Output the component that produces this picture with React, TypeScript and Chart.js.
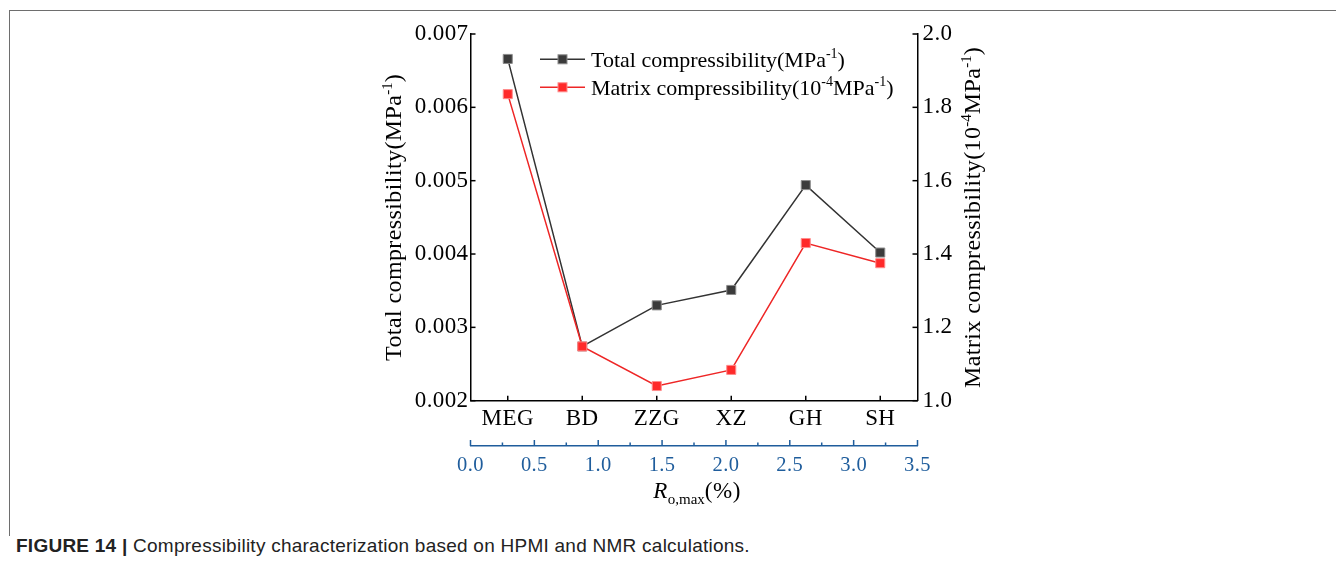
import React, { useEffect, useRef } from "react";
import { Chart, registerables } from "chart.js";

Chart.register(...registerables);

// ---------------- data ----------------
const categories: string[] = ["MEG", "BD", "ZZG", "XZ", "GH", "SH"];
const totalCompressibility: number[] = [0.00666, 0.00274, 0.0033, 0.00351, 0.00494, 0.00402];
const matrixCompressibility: number[] = [1.836, 1.148, 1.04, 1.084, 1.43, 1.375];
const leftTickValues: number[] = [0.002, 0.003, 0.004, 0.005, 0.006, 0.007];
const rightTickValues: number[] = [1.0, 1.2, 1.4, 1.6, 1.8, 2.0];
const roMajorTicks: number[] = [0, 0.5, 1.0, 1.5, 2.0, 2.5, 3.0, 3.5];
const roMinorTicks: number[] = [0.25, 0.75, 1.25, 1.75, 2.25, 2.75, 3.25];
const seriesLabels: string[] = ["Total compressibility(MPa⁻¹)", "Matrix compressibility(10⁻⁴MPa⁻¹)"];

type Seg = { t: string; s?: "sup" | "sub"; i?: boolean };
const totalText: Seg[] = [{ t: "Total compressibility(MPa" }, { t: "-1", s: "sup" }, { t: ")" }];
const matrixText: Seg[] = [
  { t: "Matrix compressibility(10" },
  { t: "-4", s: "sup" },
  { t: "MPa" },
  { t: "-1", s: "sup" },
  { t: ")" },
];
const roTitle: Seg[] = [{ t: "R", i: true }, { t: "o,max", s: "sub" }, { t: "(%)" }];
const captionLead = "FIGURE 14 |";
const captionBody = " Compressibility characterization based on HPMI and NMR calculations.";

// ---------------- styles ----------------
const SERIF = "'Liberation Serif', 'Times New Roman', serif";
const BLACK_LINE = "#333333";
const BLACK_FILL = "#3b3b3b";
const BLACK_EDGE = "#8c8c8c";
const RED_LINE = "#ee2626";
const RED_FILL = "#ff2a2a";
const RED_EDGE = "#ff8c8c";
const BLUE = "#1f5d9c";

function segFont(s: Seg, size: number) {
  const sz = s.s ? Math.round(size * 0.64) : size;
  return `${s.i ? "italic " : ""}${sz}px ${SERIF}`;
}
function richWidth(ctx: any, segs: Seg[], size: number, ls: number) {
  let w = 0;
  for (const s of segs) {
    ctx.font = segFont(s, size);
    ctx.letterSpacing = s.s ? "0px" : `${ls}px`;
    w += ctx.measureText(s.t).width;
  }
  return w;
}
function drawRich(ctx: any, segs: Seg[], x: number, baseline: number, size: number, color: string, ls: number) {
  ctx.fillStyle = color;
  ctx.textAlign = "left";
  ctx.textBaseline = "alphabetic";
  let cx = x;
  for (const s of segs) {
    ctx.font = segFont(s, size);
    ctx.letterSpacing = s.s ? "0px" : `${ls}px`;
    const dy = s.s === "sup" ? -size * 0.4 : s.s === "sub" ? size * 0.28 : 0;
    ctx.fillText(s.t, cx, baseline + dy);
    cx += ctx.measureText(s.t).width;
  }
  ctx.letterSpacing = "0px";
}

const decorPlugin = {
  id: "decor",
  beforeDraw(chart: any) {
    chart.ctx.letterSpacing = "0.4px";
  },
  afterDraw(chart: any) {
    const ctx: any = chart.ctx;
    ctx.letterSpacing = "0px";
    const ca = chart.chartArea;
    const { x, y, y1, ro } = chart.scales;
    ctx.save();
    const line = (x0: number, y0: number, x1: number, y1v: number) => {
      ctx.beginPath();
      ctx.moveTo(x0, y0);
      ctx.lineTo(x1, y1v);
      ctx.stroke();
    };
    // inward tick marks
    ctx.strokeStyle = "#000";
    ctx.lineWidth = 1.5;
    x.ticks.forEach((_: any, i: number) => {
      const px = x.getPixelForTick(i);
      line(px, ca.bottom, px, ca.bottom - 5);
    });
    y.ticks.forEach((_: any, i: number) => {
      const py = y.getPixelForTick(i);
      line(ca.left, py, ca.left + 5, py);
    });
    y1.ticks.forEach((_: any, i: number) => {
      const py = y1.getPixelForTick(i);
      line(ca.right, py, ca.right - 5, py);
    });
    ctx.strokeStyle = BLUE;
    ro.ticks.forEach((t: any, i: number) => {
      const px = ro.getPixelForTick(i);
      const major = roMajorTicks.includes(t.value);
      line(px, ro.top, px, ro.top - (major ? 6 : 3.5));
    });

    // axis titles
    const tSize = 24;
    const tLs = 0.4;
    const cy = (ca.top + ca.bottom) / 2;
    [
      { segs: totalText, cx: ca.left - 77 },
      { segs: matrixText, cx: ca.right + 55 },
    ].forEach(({ segs, cx }) => {
      const w = richWidth(ctx, segs, tSize, tLs);
      ctx.save();
      ctx.translate(cx, cy);
      ctx.rotate(-Math.PI / 2);
      drawRich(ctx, segs, -w / 2, tSize * 0.33, tSize, "#000", tLs);
      ctx.restore();
    });
    const rSize = 23;
    const rw = richWidth(ctx, roTitle, rSize, 0.5);
    drawRich(ctx, roTitle, (ca.left + ca.right) / 2 - rw / 2 + 3, 490, rSize, "#000", 0.5);

    // legend
    const lSize = 22;
    const legendTexts = [totalText, matrixText];
    const rows = [51.3, 79.3];
    const lx0 = 532;
    const lx1 = 577;
    chart.data.datasets.forEach((ds: any, i: number) => {
      const ry = rows[i];
      ctx.strokeStyle = ds.borderColor;
      ctx.lineWidth = ds.borderWidth;
      line(lx0, ry, lx1, ry);
      const mx = (lx0 + lx1) / 2;
      ctx.fillStyle = ds.pointBackgroundColor;
      ctx.fillRect(mx - 4.5, ry - 4.5, 9, 9);
      ctx.strokeStyle = ds.pointBorderColor;
      ctx.lineWidth = 1;
      ctx.strokeRect(mx - 4.5, ry - 4.5, 9, 9);
      drawRich(ctx, legendTexts[i], 583, ry + lSize * 0.33, lSize, "#000", 0);
    });
    ctx.restore();
  },
};

export default function App() {
  const ref = useRef<HTMLCanvasElement>(null);
  useEffect(() => {
    const tickFont = { family: SERIF, size: 23 };
    const chart = new Chart(ref.current as HTMLCanvasElement, {
      type: "line",
      data: {
        labels: categories,
        datasets: [
          {
            label: seriesLabels[0],
            data: totalCompressibility,
            yAxisID: "y",
            xAxisID: "x",
            borderColor: BLACK_LINE,
            borderWidth: 1.5,
            pointStyle: "rect",
            pointRadius: 6.4,
            pointBackgroundColor: BLACK_FILL,
            pointBorderColor: BLACK_EDGE,
            pointBorderWidth: 1,
            tension: 0,
            order: 1,
          },
          {
            label: seriesLabels[1],
            data: matrixCompressibility,
            yAxisID: "y1",
            xAxisID: "x",
            borderColor: RED_LINE,
            borderWidth: 1.5,
            pointStyle: "rect",
            pointRadius: 6.4,
            pointBackgroundColor: RED_FILL,
            pointBorderColor: RED_EDGE,
            pointBorderWidth: 1,
            tension: 0,
            order: 0,
          },
        ],
      },
      options: {
        responsive: false,
        animation: false,
        events: [],
        layout: { padding: { top: 26, left: 382.5, right: 366.5, bottom: 12 } },
        plugins: { legend: { display: false }, tooltip: { enabled: false } },
        scales: {
          x: {
            type: "category",
            position: "bottom",
            offset: true,
            weight: 0,
            grid: { display: false, drawTicks: false },
            border: { display: true, color: "#000", width: 1.5 },
            ticks: { color: "#000", font: tickFont, padding: 4, maxRotation: 0, autoSkip: false },
            afterFit: (s: any) => {
              s.height = 45.3;
            },
          },
          ro: {
            type: "linear",
            position: "bottom",
            weight: 1,
            min: roMajorTicks[0],
            max: roMajorTicks[roMajorTicks.length - 1],
            grid: { display: false, drawTicks: false },
            border: { display: true, color: BLUE, width: 1.5 },
            ticks: {
              color: BLUE,
              font: { family: SERIF, size: 20.5 },
              padding: 7,
              maxRotation: 0,
              autoSkip: false,
              callback: (v: any) => (roMajorTicks.includes(Number(v)) ? Number(v).toFixed(1) : ""),
            },
            afterBuildTicks: (s: any) => {
              s.ticks = [...roMajorTicks, ...roMinorTicks].sort((a, b) => a - b).map((v) => ({ value: v }));
            },
            afterFit: (s: any) => {
              s.height = 70;
            },
          },
          y: {
            type: "linear",
            position: "left",
            min: leftTickValues[0],
            max: leftTickValues[leftTickValues.length - 1],
            grid: { display: false, drawTicks: false },
            border: { display: true, color: "#000", width: 1.5 },
            ticks: {
              color: "#000",
              font: tickFont,
              padding: 2,
              callback: (v: any) => Number(v).toFixed(3),
            },
            afterBuildTicks: (s: any) => {
              s.ticks = leftTickValues.map((v) => ({ value: v }));
            },
            afterFit: (s: any) => {
              s.width = 80;
            },
          },
          y1: {
            type: "linear",
            position: "right",
            min: rightTickValues[0],
            max: rightTickValues[rightTickValues.length - 1],
            grid: { display: false, drawTicks: false },
            border: { display: true, color: "#000", width: 1.5 },
            ticks: {
              color: "#000",
              font: tickFont,
              padding: 5,
              callback: (v: any) => Number(v).toFixed(1),
            },
            afterBuildTicks: (s: any) => {
              s.ticks = rightTickValues.map((v) => ({ value: v }));
            },
            afterFit: (s: any) => {
              s.width = 60;
            },
          },
        },
      } as any,
      plugins: [decorPlugin],
    });
    return () => chart.destroy();
  }, []);

  return (
    <div style={{ position: "relative", width: 1336, height: 548, overflow: "hidden" }}>
      <div style={{ position: "absolute", left: 0.7, top: 1.5, width: 1336, height: 1.8, background: "#6e6e6e" }} />
      <div style={{ position: "absolute", left: 0.7, top: 1.5, width: 1.6, height: 526, background: "#6e6e6e" }} />
      <canvas ref={ref} width={1336} height={520} style={{ position: "absolute", left: 0, top: 0 }} />
      <div
        style={{
          position: "absolute",
          left: 8,
          top: 527,
          fontFamily: "'Liberation Sans', Arial, sans-serif",
          fontSize: 19,
          letterSpacing: "0.25px",
          lineHeight: "22px",
          color: "#222",
          whiteSpace: "nowrap",
        }}
      >
        <b>{captionLead}</b>
        {captionBody}
      </div>
    </div>
  );
}
